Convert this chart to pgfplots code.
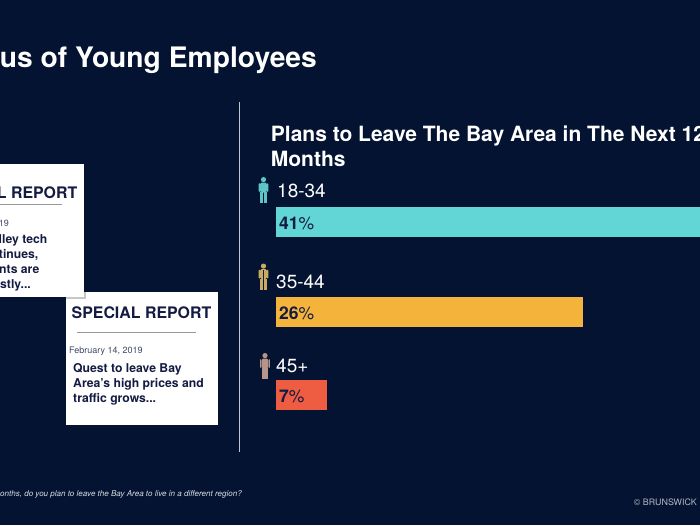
\documentclass[border=0pt]{standalone}
\usepackage{pgfplots}
\pgfplotsset{compat=1.18}
\usepackage{fontspec}
\setmainfont{TeX Gyre Heros}
\definecolor{bg}{HTML}{031331}
\definecolor{teal1}{HTML}{62D5D6}
\definecolor{amber}{HTML}{F4B43C}
\definecolor{redb}{HTML}{EE5C42}
\definecolor{navy}{HTML}{141B42}
\definecolor{iconT}{HTML}{5EC5C6}
\definecolor{iconG}{HTML}{C9AB62}
\definecolor{iconR}{HTML}{B8958A}
\newcommand{\fs}[1]{\fontsize{#1}{#1}\selectfont}
\newcommand{\person}[3]{% centre x, top y, colour
  \fill[#3] (#1,#2+2.6) circle (2.6);
  \fill[#3,rounded corners=1.5] (#1-3.4,#2+5.6) rectangle (#1+3.4,#2+15.5);
  \fill[#3,rounded corners=0.8] (#1-4.8,#2+6.2) rectangle (#1-3.6,#2+15);
  \fill[#3,rounded corners=0.8] (#1+3.6,#2+6.2) rectangle (#1+4.8,#2+15);
  \fill[#3] (#1-3.2,#2+15) rectangle (#1-0.4,#2+26);
  \fill[#3] (#1+0.4,#2+15) rectangle (#1+3.2,#2+26);
}
\begin{document}
\begin{tikzpicture}[x=1pt,y=-1pt]
\path[use as bounding box] (0,0) rectangle (700,525);
\clip (0,0) rectangle (700,525);
\fill[bg] (0,0) rectangle (700,525);
% title
\node[anchor=base east,text=white,inner sep=0pt] at (317,67) {\fs{28.2}\bfseries us of Young Employees};
% divider
\draw[color=white!75!bg,line width=1pt] (239.5,102) -- (239.5,452);
% card 2
\fill[white] (66,292) rectangle (218,425);
\node[anchor=base west,text=navy,inner sep=0pt] at (71.5,318) {\fs{15.9}\bfseries SPECIAL REPORT};
\draw[color=black!40,line width=0.8pt] (77,332) -- (196,332);
\node[anchor=base west,text=navy!80,inner sep=0pt] at (69,353.5) {\fs{9}February 14, 2019};
\node[anchor=base west,text=navy,inner sep=0pt] at (73,372) {\fs{12.2}\bfseries Quest to leave Bay};
\node[anchor=base west,text=navy,inner sep=0pt] at (73,387) {\fs{12.2}\bfseries Area's high prices and};
\node[anchor=base west,text=navy,inner sep=0pt] at (73,402) {\fs{12.2}\bfseries traffic grows...};
% card 1, over card 2, with its small shadow
\fill[black!22] (66,292) rectangle (85.5,298.5);
\fill[white] (0,164) rectangle (84,297);
\node[anchor=base east,text=navy,inner sep=0pt] at (77.5,198) {\fs{15.9}\bfseries L REPORT};
\draw[color=black!40,line width=0.8pt] (0,204) -- (62,204);
\node[anchor=base east,text=navy!80,inner sep=0pt] at (9,226) {\fs{9}19};
\node[anchor=base east,text=navy,inner sep=0pt] at (47.5,243) {\fs{12.2}\bfseries lley tech};
\node[anchor=base east,text=navy,inner sep=0pt] at (38.5,258) {\fs{12.2}\bfseries tinues,};
\node[anchor=base east,text=navy,inner sep=0pt] at (39.5,273) {\fs{12.2}\bfseries nts are};
\node[anchor=base east,text=navy,inner sep=0pt] at (31,288) {\fs{12.2}\bfseries stly...};
% chart title
\node[anchor=base west,text=white,inner sep=0pt] at (270.7,141.5) {\fs{21}\bfseries Plans to Leave The Bay Area in The Next 12};
\node[anchor=base west,text=white,inner sep=0pt] at (270.7,166.7) {\fs{21}\bfseries Months};
% categories
\node[anchor=base west,text=white,inner sep=0pt] at (277,197) {\fs{19}18-34};
\node[anchor=base west,text=white,inner sep=0pt] at (276,288) {\fs{19}35-44};
\node[anchor=base west,text=white,inner sep=0pt] at (276,372) {\fs{19}45+};
% icons
\person{263.5}{177}{iconT}
\person{263.5}{263.5}{iconG}
\fill[navy] (263,269.5) rectangle (264,279);
\person{265}{353}{iconR}
% footer
\node[anchor=base east,text=white!85!bg,inner sep=0pt] at (242,496) {\fs{8.05}\itshape months, do you plan to leave the Bay Area to live in a different region?};
\node[anchor=base east,text=white!70!bg,inner sep=0pt] at (697,505) {\fs{8.9}© BRUNSWICK};
% bars
\begin{axis}[
  at={(0,0)},anchor=north west,scale only axis,
  width=700pt,height=525pt,
  xmin=-276,xmax=424,ymin=0,ymax=525,y dir=reverse,
  hide axis,clip=true]
\addplot[xbar,bar width=30pt,bar shift=0pt,fill=teal1,draw=none] coordinates {(480,222)};
\addplot[xbar,bar width=30pt,bar shift=0pt,fill=amber,draw=none] coordinates {(307.3,312)};
\addplot[xbar,bar width=30pt,bar shift=0pt,fill=redb,draw=none] coordinates {(50.7,395)};
\addplot[draw=none,mark=none,point meta=explicit symbolic,
  nodes near coords={\fs{17.5}\textbf{\pgfplotspointmeta}\%},
  nodes near coords style={anchor=west,text=navy,xshift=-0.5pt}]
  table[x=x,y=y,meta=v] {
x y v
0 223 41
0 313 26
0 396 7
};
\end{axis}
\end{tikzpicture}
\end{document}
